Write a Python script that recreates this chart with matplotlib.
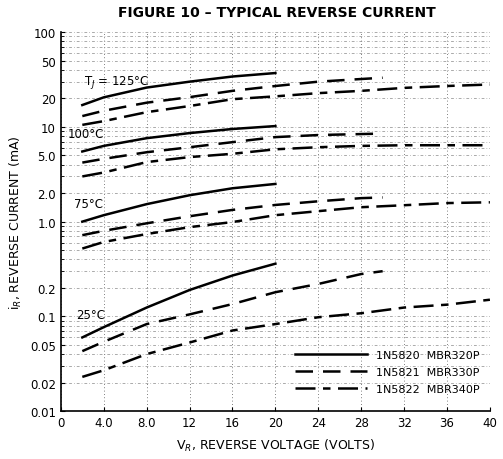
import matplotlib.pyplot as plt
from matplotlib.ticker import FixedLocator, NullFormatter
import numpy as np

plt.rcParams['font.family'] = ['Liberation Sans Narrow', 'DejaVu Sans']

# reverse voltage points (volts)
v_5820 = [2, 4, 8, 12, 16, 20]
v_5821 = [2, 4, 8, 12, 16, 20, 24, 28, 30]
v_5822 = [2, 4, 8, 12, 16, 20, 24, 28, 32, 36, 40]

# reverse current (mA) per junction temperature
i_5820 = {
    125: [17, 20.5, 26, 30, 34, 37],
    100: [5.5, 6.3, 7.6, 8.6, 9.5, 10.2],
    75: [1.0, 1.17, 1.53, 1.9, 2.25, 2.5],
    25: [0.06, 0.077, 0.124, 0.19, 0.27, 0.36],
}
i_5821 = {
    125: [13, 14.8, 18, 20.6, 24, 27, 30, 32, 33],
    100: [4.2, 4.6, 5.4, 6.1, 6.9, 7.8, 8.2, 8.4, 8.5],
    75: [0.72, 0.8, 0.96, 1.14, 1.33, 1.5, 1.64, 1.77, 1.8],
    25: [0.043, 0.054, 0.083, 0.105, 0.135, 0.18, 0.22, 0.28, 0.30],
}
i_5822 = {
    125: [10.5, 11.5, 14.3, 16.6, 19.6, 21, 22.7, 24, 25.8, 27, 28],
    100: [3.0, 3.3, 4.25, 4.8, 5.2, 5.8, 6.1, 6.3, 6.4, 6.4, 6.4],
    75: [0.52, 0.61, 0.74, 0.875, 0.99, 1.17, 1.29, 1.42, 1.49, 1.57, 1.6],
    25: [0.023, 0.027, 0.04, 0.053, 0.071, 0.083, 0.098, 0.108, 0.124, 0.133, 0.15],
}

x_ticks = [0, 4, 8, 12, 16, 20, 24, 28, 32, 36, 40]
x_labels = ['0', '4.0', '8.0', '12', '16', '20', '24', '28', '32', '36', '40']
y_ticks = [0.01, 0.02, 0.05, 0.1, 0.2, 1.0, 2.0, 5.0, 10, 20, 50, 100]
y_labels = ['0.01', '0.02', '0.05', '0.1', '0.2', '1.0', '2.0', '5.0', '10', '20', '50', '100']

temp_labels = [('T$_J$ = 125°C', 2.2, 30), ('100°C', 0.6, 8.6), ('75°C', 1.2, 1.55), ('25°C', 1.4, 0.105)]

fig = plt.figure(figsize=(5.03, 4.60), dpi=100)
ax = fig.add_axes([0.121, 0.104, 0.853, 0.824])
ax.set_yscale('log')
ax.set_xlim(0, 40)
ax.set_ylim(0.01, 100)

dash = (0, (7, 4))
dashdot = (0, (8, 3, 3, 3))
first = True
for t in [125, 100, 75, 25]:
    ax.plot(v_5820, i_5820[t], color='black', lw=1.8, ls='-',
            label='1N5820  MBR320P' if first else None)
    ax.plot(v_5821, i_5821[t], color='black', lw=1.8, ls=dash,
            label='1N5821  MBR330P' if first else None)
    ax.plot(v_5822, i_5822[t], color='black', lw=1.8, ls=dashdot,
            label='1N5822  MBR340P' if first else None)
    first = False

for txt, x, y in temp_labels:
    ax.text(x, y, txt, fontsize=8.5, va='center', ha='left')

ax.xaxis.set_major_locator(FixedLocator(x_ticks))
ax.set_xticklabels(x_labels, fontsize=8.5)
ax.yaxis.set_major_locator(FixedLocator(y_ticks))
ax.set_yticklabels(y_labels, fontsize=8.5)
minor = [m * d for d in [0.01, 0.1, 1, 10] for m in range(2, 10)]
ax.yaxis.set_minor_locator(FixedLocator(minor))
ax.yaxis.set_minor_formatter(NullFormatter())
ax.tick_params(axis='both', which='major', length=3, direction='in')
ax.tick_params(axis='y', which='minor', length=2, direction='in')

ax.grid(True, which='both', axis='y', color='#888888', ls=(0, (4, 3, 1, 3)), lw=0.5)
ax.grid(True, which='major', axis='x', color='#555555', ls=(0, (1, 3)), lw=0.6)
for s in ['top', 'right']:
    ax.spines[s].set_visible(False)
ax.spines['left'].set_linewidth(1.2)
ax.spines['bottom'].set_linewidth(1.2)

ax.set_xlabel('V$_R$, REVERSE VOLTAGE (VOLTS)', fontsize=9, labelpad=6)
ax.set_ylabel('i$_R$, REVERSE CURRENT (mA)', fontsize=9, labelpad=4)
fig.text(0.55, 0.972, 'FIGURE 10 \u2013 TYPICAL REVERSE CURRENT', ha='center', va='center',
         fontsize=10, fontweight='bold', family='DejaVu Sans')

leg = ax.legend(loc='lower right', bbox_to_anchor=(1.0, 0.02), frameon=False,
                fontsize=8, handlelength=6.5, handletextpad=0.8, labelspacing=0.6)

fig.savefig('out.png', dpi=100)
